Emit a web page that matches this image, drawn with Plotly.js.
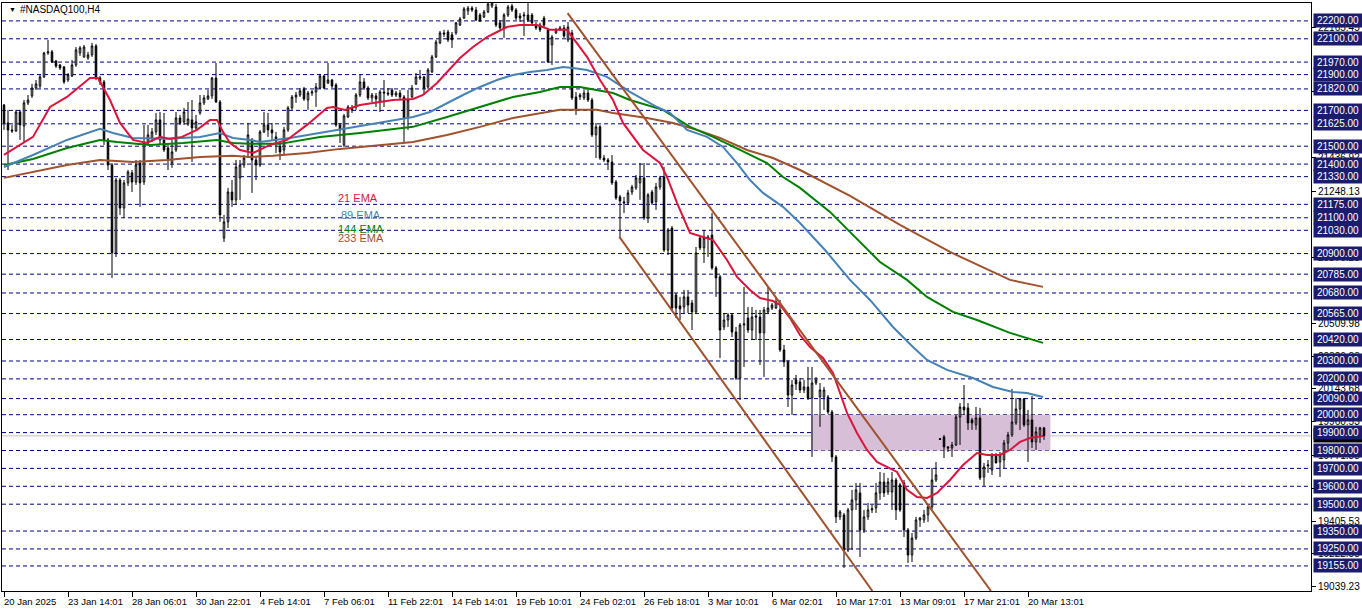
<!DOCTYPE html>
<html><head><meta charset="utf-8">
<script src="https://cdn.plot.ly/plotly-3.0.1.min.js"></script>
<style>html,body{margin:0;padding:0;background:#fff;overflow:hidden}#chart{width:1362px;height:611px}</style>
</head><body><div id="chart"></div>
<script>
// ---------------- DATA (NASDAQ100, H4) ----------------
const symbolTitle = "#NASDAQ100,H4";
const timeLabels = ["20 Jan 2025","23 Jan 14:01","28 Jan 06:01","30 Jan 22:01","4 Feb 14:01","7 Feb 06:01","11 Feb 22:01","14 Feb 14:01","19 Feb 10:01","24 Feb 02:01","26 Feb 18:01","3 Mar 10:01","6 Mar 02:01","10 Mar 17:01","13 Mar 09:01","17 Mar 21:01","20 Mar 13:01"];
const timeLabelBars = [0,16,32,48,64,80,96,112,128,144,160,176,192,208,224,240,256];

const open = [21730,21630,21591,21585,21691,21613,21742,21781,21825,21836,
21887,22021,22027,21976,21954,21943,21870,21892,21954,22021,
21999,21993,22010,22060,21881,21859,21535,21395,20904,21311,
21155,21295,21351,21300,21406,21300,21518,21546,21580,21647,
21535,21490,21406,21479,21658,21636,21624,21647,21602,21686,
21742,21764,21781,21881,21747,20987,21077,21244,21200,21323,
21395,21479,21535,21423,21395,21580,21619,21591,21552,21501,
21479,21591,21714,21775,21786,21820,21758,21797,21803,21825,
21892,21853,21870,21842,21619,21507,21663,21714,21719,21786,
21859,21825,21770,21781,21747,21803,21797,21814,21786,21797,
21775,21658,21775,21848,21881,21887,21831,21915,21999,22077,
22133,22138,22122,22133,22177,22216,22256,22272,22261,22233,
22222,22250,22283,22278,22189,22161,22233,22283,22261,22228,
22228,22233,22233,22177,22177,22216,22150,22066,22133,22150,
22161,22094,22133,21775,21775,21770,21797,21758,21563,21608,
21434,21423,21412,21300,21217,21189,21183,21244,21267,21295,
21323,21099,21244,21189,21272,21328,20920,21043,20669,20608,
20602,20658,20624,20574,20987,20932,20993,21004,20820,20770,
20490,20529,20557,20462,20205,20501,20540,20473,20552,20546,
20457,20574,20596,20596,20585,20362,20295,20110,20194,20183,
20138,20155,20093,20177,20099,20099,20099,20015,19764,19429,
19440,19244,19468,19524,19563,19356,19429,19468,19479,19563,
19624,19568,19568,19635,19608,19619,19356,19216,19311,19412,
19412,19440,19485,19635,19865,19876,19820,19814,19831,19987,
20043,20038,19971,19943,19982,19652,19714,19691,19775,19736,
19747,19842,19887,19954,20032,20088,19943,19971,19848,19887,
19926];

const high = [21736,21703,21619,21703,21703,21758,21786,21848,21870,21898,
22027,22094,22038,21982,21959,21948,21909,21982,22054,22060,
22066,22027,22077,22071,21892,21870,21546,21406,21323,21323,
21311,21367,21367,21423,21423,21619,21619,21602,21686,21691,
21686,21507,21535,21691,21675,21714,21747,21758,21675,21786,
21786,21814,21887,21965,21758,21116,21267,21311,21423,21423,
21451,21630,21546,21440,21591,21691,21686,21630,21580,21524,
21608,21725,21786,21803,21825,21831,21809,21814,21853,21904,
21898,21965,21876,21853,21630,21680,21730,21730,21797,21898,
21881,21836,21797,21797,21814,21870,21825,21825,21809,21814,
21786,21814,21842,21909,21926,21892,21937,22010,22094,22144,
22150,22150,22138,22194,22222,22278,22283,22283,22278,22244,
22261,22306,22306,22295,22205,22244,22289,22295,22272,22244,
22250,22300,22244,22194,22189,22228,22161,22122,22161,22172,
22177,22194,22150,21803,21797,21814,21825,21770,21630,21619,
21451,21434,21451,21311,21228,21217,21256,21284,21339,21406,
21406,21239,21256,21295,21334,21384,21043,21054,20680,20658,
20697,20697,20641,20937,20999,21032,21004,21127,20831,20781,
20568,20568,20568,20490,20512,20714,20602,20602,20585,20585,
20602,20714,20624,20652,20641,20390,20306,20194,20222,20205,
20194,20267,20267,20211,20177,20155,20110,20027,19775,19468,
19451,19479,19580,19619,19619,19468,19507,19496,19619,19680,
19675,19647,19680,19647,19619,19635,19367,19339,19429,19429,
19468,19496,19702,19736,19870,19887,19825,19848,19999,20065,
20166,20065,19982,20043,20038,19730,19747,19786,19786,19792,
19859,19904,20144,20093,20093,20093,20027,20105,19932,19932,
19932];

const low = [21591,21367,21574,21580,21535,21524,21730,21770,21814,21825,
21881,22010,21965,21937,21926,21848,21859,21887,21943,22004,
21993,21982,21999,21870,21842,21507,21367,20764,20881,21116,
21099,21278,21244,21284,21161,21284,21507,21524,21563,21507,
21468,21367,21379,21468,21619,21619,21613,21412,21591,21675,
21730,21758,21764,21742,21077,20965,21043,21161,21172,21200,
21379,21434,21239,21311,21384,21574,21552,21535,21462,21423,
21451,21580,21703,21742,21775,21753,21703,21781,21719,21820,
21820,21848,21825,21608,21518,21496,21658,21686,21703,21775,
21814,21758,21747,21719,21691,21719,21781,21775,21775,21758,
21518,21591,21770,21842,21870,21786,21820,21909,21993,22071,
22110,22082,22049,22122,22172,22211,22233,22250,22200,22194,
22216,22244,22272,22166,22150,22105,22222,22250,22205,22194,
22116,22194,22177,22150,22138,22166,21965,21954,22127,22144,
22105,22082,21758,21675,21758,21758,21747,21552,21434,21423,
21412,21367,21284,21200,20993,21127,21172,21228,21256,21200,
21088,21071,21172,21144,21256,20909,20892,20585,20540,20529,
20568,20568,20473,20568,20920,20848,20881,20809,20658,20317,
20473,20490,20434,20194,20082,20267,20457,20417,20417,20278,
20211,20568,20585,20591,20351,20267,20043,19999,20138,20121,
20121,20082,19764,20166,19932,20027,20004,19736,19395,19412,
19144,19233,19244,19468,19205,19339,19412,19451,19451,19524,
19540,19552,19468,19412,19457,19317,19172,19177,19300,19373,
19395,19401,19468,19624,19859,19758,19792,19764,19825,19831,
19999,19915,19915,19915,19635,19602,19675,19663,19730,19652,
19702,19803,19876,19943,19915,19932,19736,19814,19803,19842,
19859];

const close = [21630,21591,21585,21691,21619,21742,21758,21825,21848,21887,
22021,22027,21971,21948,21937,21859,21898,21954,22038,22049,
22054,22010,22060,21887,21859,21535,21395,20904,21311,21155,
21295,21356,21300,21395,21295,21518,21563,21580,21647,21535,
21479,21423,21468,21658,21630,21691,21652,21602,21636,21742,
21770,21781,21881,21747,21116,21077,21244,21200,21384,21395,
21434,21563,21423,21395,21580,21619,21591,21574,21529,21468,
21591,21714,21775,21786,21809,21764,21797,21803,21831,21892,
21825,21870,21836,21619,21591,21669,21719,21703,21786,21859,
21825,21770,21786,21764,21803,21797,21792,21786,21797,21775,
21658,21758,21825,21887,21887,21825,21926,21999,22082,22133,
22127,22094,22094,22189,22211,22267,22272,22261,22205,22200,
22250,22295,22300,22177,22161,22233,22278,22261,22216,22216,
22233,22205,22189,22161,22150,22177,21971,22110,22150,22161,
22116,22166,21770,21703,21786,21797,21758,21563,21608,21434,
21423,21412,21295,21211,21194,21183,21239,21272,21323,21323,
21099,21228,21183,21272,21323,20920,21032,20596,20596,20591,
20658,20613,20574,20904,20932,20987,20987,20820,20764,20473,
20529,20557,20462,20205,20501,20507,20473,20546,20546,20457,
20585,20596,20613,20630,20362,20295,20110,20166,20172,20138,
20155,20093,20177,20194,20138,20138,20015,19764,19429,19457,
19244,19468,19524,19580,19356,19429,19468,19474,19563,19624,
19563,19624,19635,19468,19468,19356,19216,19311,19412,19423,
19440,19485,19635,19663,19862,19820,19814,19831,19987,20043,
20027,19954,19954,19982,19647,19708,19719,19775,19730,19775,
19842,19887,19959,20032,20088,19943,19971,19848,19904,19926,
19882];

// Moving averages (bar index, price)
const ema21Bar = [0,7.25,11.5,15.75,21.5,23.5,26.5,29,32.25,35.75,39,41.5,44.5,48.25,51.5,53.25,54.75,56.5,59,62.25,66.5,70.75,75.75,80.75,82.25,85.25,89,94.75,97.25,102.25,104.75,108.25,110.75,114,117.25,120.75,123.25,125.75,129,133.25,134.75,136.5,140.75,143.25,145.75,149,152.25,154.75,157.25,159.75,164,165.75,168.25,171.5,174.75,177.25,180.75,183.25,186.5,189,192.25,194,196.5,199,201.5,204.75,207.25,209,210.75,213.25,215.75,218.25,220.75,223.25,225.75,228.25,230.75,233.25,236.5,239.75,243.25,245.75,249,251.5,254,256.5,259.75];
const ema21Val = [21451,21552,21719,21775,21881,21881,21758,21630,21535,21518,21552,21541,21552,21591,21647,21647,21580,21518,21479,21462,21507,21535,21619,21714,21719,21703,21730,21747,21758,21764,21786,21853,21915,21993,22054,22110,22138,22166,22177,22177,22166,22150,22150,22077,21999,21870,21758,21630,21552,21479,21406,21328,21183,21015,20993,20976,20864,20770,20697,20652,20635,20613,20540,20445,20378,20317,20233,20121,20010,19898,19803,19736,19708,19680,19580,19540,19535,19563,19635,19719,19786,19775,19775,19803,19848,19870,19881];

const ema89Bar = [0,7.25,15.75,20.75,24,27.25,32.25,40.75,49,54,57.25,61.5,64,71.5,80.75,89,96.5,102.25,106.5,110.75,114.75,119,123.25,127.25,131.5,135.75,139.75,142.25,145.75,150.75,156.5,163.25,166.5,170.75,175.75,179.75,183.25,186.5,189.75,194.75,199,205.25,211.5,216.5,222.25,227.25,230.75,235.75,242.25,247.25,252.25,255.75,259.75];
const ema89Val = [21384,21451,21535,21574,21597,21574,21546,21541,21552,21574,21546,21535,21524,21546,21580,21613,21641,21663,21691,21742,21786,21831,21870,21898,21915,21926,21943,21937,21926,21887,21803,21719,21686,21591,21552,21496,21406,21311,21239,21161,21071,20920,20753,20641,20490,20378,20306,20250,20205,20155,20127,20121,20099];

const ema144Bar = [0,7.25,15.75,24,28.25,36.5,44.75,53.25,57.25,61.5,69,79,89,96.5,102.25,110.75,119,127.25,134,139,144,148.25,152.25,156.5,164.75,171.5,177.25,184,190.75,194.75,199,206.5,214,219,225.75,230.75,237.25,243.25,251.5,255.75,259.75];
const ema144Val = [21395,21429,21490,21535,21524,21507,21518,21535,21518,21513,21513,21552,21574,21591,21608,21663,21719,21775,21803,21831,21831,21814,21797,21758,21703,21608,21552,21479,21406,21328,21267,21133,20965,20853,20753,20658,20574,20529,20457,20428,20401];

const ema233Bar = [0,7.25,15.75,24,32.25,40.75,49,57.25,61.5,67.25,75.75,84,92.25,102.25,110.75,119,127.25,134,139,148.25,152.25,160.75,167.25,173.25,179,185.75,192.25,199,211.5,224,236.5,251.5,259.75];
const ema233Val = [21323,21356,21395,21423,21412,21423,21440,21446,21440,21446,21462,21485,21501,21524,21563,21608,21658,21686,21703,21703,21686,21658,21630,21591,21546,21479,21434,21367,21222,21060,20909,20753,20714];

// Trend channel (bar index, price)
const channelUpperBar = [140.9, 246.75];
const channelUpperVal = [22243, 19015];
const channelLowerBar = [153.8, 217.1];
const channelLowerVal = [20995, 19015];

// Support/resistance zone
const zoneBars = [201.75, 261.6];
const zonePrices = [19800, 20000];

// Horizontal levels (labelled)
const levelPrices = [22200,22100,21970,21900,21820,21700,21625,21500,21400,21330,21175,21100,21030,20900,20785,20680,20565,20420,20300,20200,20090,20000,19900,19800,19700,19600,19500,19350,19250,19155];
// Price scale labels
const scalePrices = [22165.45,21803.13,21436.92,21248.13,20876.28,20509.98,20326.83,20143.68,19960.53,19771.83,19588.68,19405.53,19222.58,19039.23];
const bidPrice = 19881.57;

const emaLegend = ["21 EMA","89 EMA","144 EMA","233 EMA"];

// ---------------- CHART ----------------
const FONT = "Liberation Sans, Arial, sans-serif";
const xIdx = close.map((_, i) => i);

const traces = [];
traces.push({
  type: 'candlestick', x: xIdx, open: open, high: high, low: low, close: close,
  increasing: {line: {color: '#000000', width: 1}, fillcolor: '#ffffff'},
  decreasing: {line: {color: '#000000', width: 1}, fillcolor: '#000000'},
  whiskerwidth: 0, hoverinfo: 'skip', showlegend: false
});
const emaSets = [
  [ema233Bar, ema233Val, '#a0522d'],
  [ema144Bar, ema144Val, '#008000'],
  [ema89Bar, ema89Val, '#4682b4'],
  [ema21Bar, ema21Val, '#dc143c']
];
emaSets.forEach(s => traces.push({type: 'scatter', mode: 'lines', x: s[0], y: s[1],
  line: {color: s[2], width: 2}, hoverinfo: 'skip', showlegend: false}));
[[channelUpperBar, channelUpperVal],[channelLowerBar, channelLowerVal]].forEach(s => traces.push({
  type: 'scatter', mode: 'lines', x: s[0], y: s[1], line: {color: '#a0522d', width: 2},
  hoverinfo: 'skip', showlegend: false}));

const shapes = [];
shapes.push({type: 'rect', xref: 'x', yref: 'y', x0: zoneBars[0], x1: zoneBars[1], y0: zonePrices[0], y1: zonePrices[1],
  fillcolor: '#d8bfd8', line: {width: 0}, layer: 'below'});
levelPrices.forEach(p => shapes.push({type: 'line', xref: 'paper', yref: 'y', x0: 0, x1: 1, y0: p, y1: p,
  line: {color: '#000080', width: 1, dash: '4px,3px'}, layer: 'below'}));
shapes.push({type: 'line', xref: 'paper', yref: 'y', x0: 0, x1: 1, y0: bidPrice, y1: bidPrice,
  line: {color: '#c0c0c0', width: 1}, layer: 'below'});

const annotations = [];
// title
annotations.push({xref: 'paper', yref: 'paper', x: 0.0035, y: 0.989, xanchor: 'left', yanchor: 'middle',
  text: '▼', showarrow: false, font: {family: FONT, size: 7, color: '#000'}});
annotations.push({xref: 'paper', yref: 'paper', x: 0.0122, y: 0.989, xanchor: 'left', yanchor: 'middle',
  text: symbolTitle, showarrow: false, font: {family: FONT, size: 10, color: '#000'}});
// EMA labels
const emaLegendColors = ['#dc143c','#4682b4','#008000','#a0522d'];
const emaLegendX = [0.2549, 0.2574, 0.2549, 0.2549];
const emaLegendY = [0.6692, 0.6403, 0.6153, 0.6];
emaLegend.forEach((t, k) => annotations.push({xref: 'paper', yref: 'paper', x: emaLegendX[k], y: emaLegendY[k],
  xanchor: 'left', yanchor: 'middle', text: t, showarrow: false, font: {family: FONT, size: 11, color: emaLegendColors[k]}}));
// time labels
timeLabels.forEach((t, k) => annotations.push({xref: 'x', yref: 'paper', x: timeLabelBars[k], y: 0,
  xanchor: 'left', yanchor: 'top', xshift: -2, yshift: -3, text: t, showarrow: false,
  font: {family: FONT, size: 9.5, color: '#000'}}));
// bid label (mostly hidden)
annotations.push({xref: 'paper', yref: 'y', x: 1, y: bidPrice, xanchor: 'left', yanchor: 'middle', xshift: 2,
  text: bidPrice.toFixed(2), showarrow: false, bgcolor: '#000000', width: 46, height: 11, borderpad: 1,
  font: {family: FONT, size: 10, color: '#ffffff'}});
// level labels
levelPrices.forEach(p => annotations.push({xref: 'paper', yref: 'y', x: 1, y: p, xanchor: 'left', yanchor: 'middle', xshift: 2,
  text: p.toFixed(2), showarrow: false, bgcolor: '#1c1c6c', width: 46, height: 11, borderpad: 1,
  font: {family: FONT, size: 10, color: '#ffffff'}}));

const layout = {
  width: 1362, height: 611,
  margin: {l: 2, r: 51, t: 3, b: 20, pad: 0},
  paper_bgcolor: '#ffffff', plot_bgcolor: '#ffffff',
  showlegend: false, boxgap: 0.45, hovermode: false,
  xaxis: {type: 'linear', range: [-0.5, 326.75], rangeslider: {visible: false},
    tickvals: timeLabelBars, ticktext: timeLabelBars.map(() => ''), ticks: 'outside', ticklen: 5, tickcolor: '#000',
    showline: true, mirror: true, linecolor: '#000', linewidth: 1, showgrid: false, zeroline: false, fixedrange: true},
  yaxis: {side: 'right', range: [19015, 22300], tickvals: scalePrices, ticktext: scalePrices.map(v => v.toFixed(2)),
    ticks: 'outside', ticklen: 4, tickcolor: '#000', tickfont: {family: FONT, size: 10, color: '#000'},
    showline: true, mirror: true, linecolor: '#000', linewidth: 1, showgrid: false, zeroline: false, fixedrange: true},
  shapes: shapes, annotations: annotations
};
Plotly.newPlot('chart', traces, layout, {staticPlot: true, displayModeBar: false});
</script></body></html>
